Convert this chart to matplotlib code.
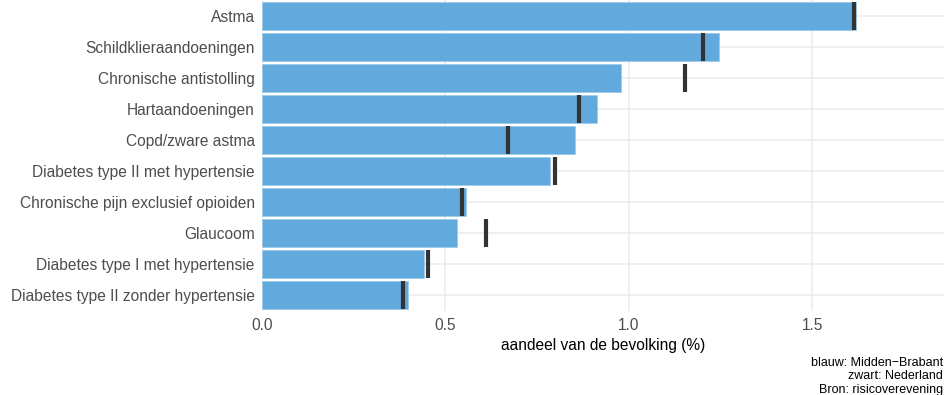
import matplotlib
matplotlib.use("Agg")
import matplotlib.pyplot as plt
import numpy as np

plt.rcParams['font.family'] = ['Liberation Sans', 'DejaVu Sans']

categories = [
    "Astma", "Schildklieraandoeningen", "Chronische antistolling",
    "Hartaandoeningen", "Copd/zware astma", "Diabetes type II met hypertensie",
    "Chronische pijn exclusief opioiden", "Glaucoom",
    "Diabetes type I met hypertensie", "Diabetes type II zonder hypertensie",
]
midden_brabant = [1.619, 1.245, 0.978, 0.913, 0.853, 0.785, 0.556, 0.531, 0.442, 0.398]
nederland = [1.613, 1.202, 1.153, 0.864, 0.670, 0.799, 0.547, 0.611, 0.452, 0.386]
xticks = [0.0, 0.5, 1.0, 1.5]

BAR = "#62A9DD"
GRID = "#EBEBEB"
TXT = "#4D4D4D"

fig = plt.figure(figsize=(9.45, 3.95), dpi=100)
ax = fig.add_axes([0.277, 0.213, 0.723, 0.786])

y = np.arange(len(categories))
h = 0.9
ax.barh(y, midden_brabant, height=h, color=BAR, edgecolor="#9CCBEB", linewidth=0.6, zorder=2)
ax.vlines(nederland, y - h / 2, y + h / 2, color="#333333", linewidth=3.0, zorder=3)

ax.set_xlim(0, 1.862)
ax.set_ylim(len(categories) - 0.5, -0.5)
ax.set_yticks(y)
ax.set_yticklabels(categories, fontsize=11.2, color=TXT)
ax.set_xticks(xticks)
ax.set_xticklabels([f"{v:.1f}" for v in xticks], fontsize=11.2, color=TXT)
ax.tick_params(length=0, pad=5)
ax.grid(True, color=GRID, linewidth=1.1, zorder=0)
ax.set_axisbelow(True)
for s in ax.spines.values():
    s.set_visible(False)
ax.set_xlabel("aandeel van de bevolking (%)", fontsize=11.2, color="black", labelpad=4)

fig.text(0.998, -0.003, "blauw: Midden\u2212Brabant\nzwart: Nederland\nBron: risicoverevening",
         ha="right", va="bottom", fontsize=9, color="black", linespacing=1.2)

fig.savefig("out.png", dpi=100)
